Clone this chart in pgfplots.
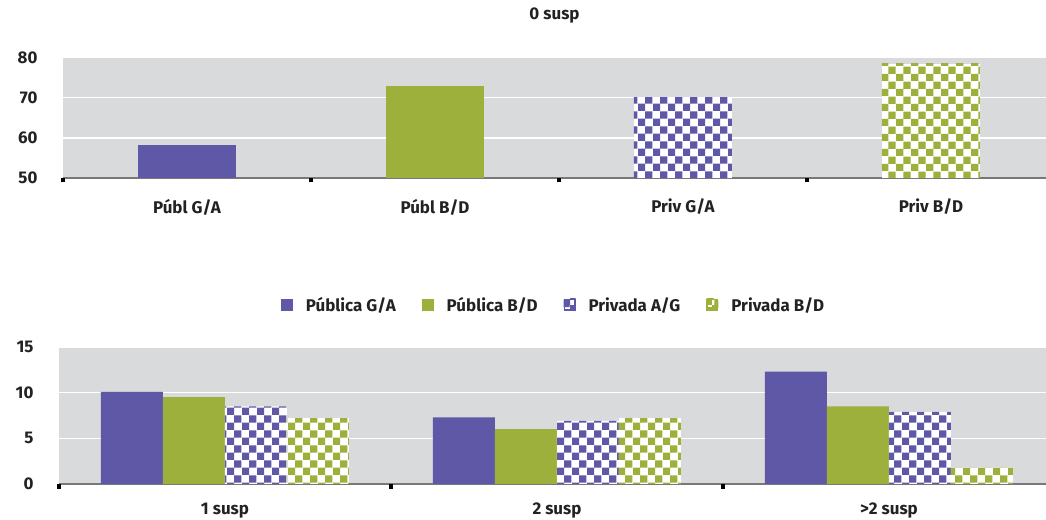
\documentclass[border=0pt]{standalone}
\usepackage{pgfplots}
\pgfplotsset{compat=1.18}
\usepackage{fontspec}
\setmainfont{Fira Sans}
\usetikzlibrary{patterns}
\definecolor{purp}{RGB}{95,88,166}
\definecolor{grn}{RGB}{157,176,59}
\definecolor{bgc}{RGB}{217,218,220}
\definecolor{axc}{RGB}{120,120,120}
\definecolor{txt}{RGB}{34,34,34}
\pgfdeclarepatternformonly{checker}{\pgfpointorigin}{\pgfqpoint{15.2bp}{15.2bp}}{\pgfqpoint{15.2bp}{15.2bp}}{%
  \pgfpathrectangle{\pgfpointorigin}{\pgfqpoint{7.6bp}{7.6bp}}%
  \pgfpathrectangle{\pgfqpoint{7.6bp}{7.6bp}}{\pgfqpoint{7.6bp}{7.6bp}}%
  \pgfusepath{fill}}
\newcommand{\lfont}{\fontsize{17}{19}\selectfont\bfseries\color{txt}}
\pgfplotsset{
  common/.style={
    scale only axis,
    axis background/.style={fill=bgc},
    axis x line*=bottom,
    axis y line*=left,
    y axis line style={draw=none},
    x axis line style={draw=axc, line width=1.5bp},
    ymajorgrids,
    grid style={white, line width=1.5bp},
    ytick style={draw=none},
    xtick style={draw=black, line width=4bp},
    major tick length=0pt,
    tick align=outside,
    tick label style={font=\lfont},
    /pgf/number format/assume math mode=true,
    yticklabel style={anchor=east, xshift=-22bp},
    xticklabel style={anchor=center},
    extra x tick style={major tick length=4.5bp},
    extra x tick labels={},
    clip=true,
  },
  solidp/.style={draw=none, fill=purp},
  solidg/.style={draw=none, fill=grn},
  checkp/.style={draw=none, fill=white, postaction={pattern=checker, pattern color=purp}},
  checkg/.style={draw=none, fill=white, postaction={pattern=checker, pattern color=grn}},
}
\begin{document}
\begin{tikzpicture}
\path[use as bounding box] (0,0) rectangle (1046bp,520bp);
% ---------- top chart ----------
\begin{axis}[common,
  at={(63bp,342bp)}, anchor=south west,
  width=983bp, height=120.5bp,
  xmin=-0.5, xmax=3.464,
  ymin=50, ymax=80,
  ytick={50,60,70,80},
  xtick={0,1,2,3},
  xticklabels={Públ G/A, Públ B/D, Priv G/A, Priv B/D},
  xticklabel style={yshift=-29bp},
  extra x ticks={-0.5,0.5,1.5,2.5},
  ybar, bar width=98bp,
  title={0 susp},
  title style={font=\lfont, at={(0.5,1)}, anchor=center, yshift=35.5bp},
]
\addplot[solidp, bar shift=0pt] coordinates {(0,58.2)};
\addplot[solidg, bar shift=0pt] coordinates {(1,72.9)};
\addplot[checkp, bar shift=0pt] coordinates {(2,70.1)};
\addplot[checkg, bar shift=0pt] coordinates {(3,78.4)};
\end{axis}
% ---------- bottom chart ----------
\begin{axis}[common,
  at={(59bp,36bp)}, anchor=south west,
  width=987bp, height=137bp,
  xmin=-0.5, xmax=2.473,
  ymin=0, ymax=15,
  ytick={0,5,10,15},
  xtick={0,1,2},
  xticklabels={1 susp, 2 susp, >2 susp},
  xticklabel style={yshift=-27bp},
  extra x ticks={-0.5,0.5,1.5},
  ybar=0pt, bar width=62bp,
  legend columns=4,
  legend style={draw=none, fill=none, at={(0.501,1.307)}, anchor=center,
    font=\lfont,
    /tikz/every odd column/.style={column sep=11bp},
    /tikz/every even column/.style={column sep=24bp},
    legend cell align=left},
]
\addplot[solidp, legend image code/.code={\fill[purp] (0bp,-6bp) rectangle (12bp,6bp);}]
  coordinates {(0,10.1) (1,7.3) (2,12.3)};
\addlegendentry{Pública G/A}
\addplot[solidg, legend image code/.code={\fill[grn] (0bp,-6bp) rectangle (12bp,6bp);}]
  coordinates {(0,9.5) (1,6.0) (2,8.5)};
\addlegendentry{Pública B/D}
\addplot[checkp, legend image code/.code={\fill[purp] (0bp,-6bp) rectangle (12bp,6bp);
    \fill[white] (6bp,0bp) rectangle (10.5bp,4.5bp); \fill[white] (1.5bp,-4.5bp) rectangle (6bp,0bp);}]
  coordinates {(0,8.5) (1,6.9) (2,7.9)};
\addlegendentry{Privada A/G}
\addplot[checkg, legend image code/.code={\fill[grn] (0bp,-6bp) rectangle (12bp,6bp);
    \fill[white] (6bp,0bp) rectangle (10.5bp,4.5bp); \fill[white] (1.5bp,-4.5bp) rectangle (6bp,0bp);}]
  coordinates {(0,7.2) (1,7.2) (2,1.8)};
\addlegendentry{Privada B/D}
\end{axis}
\end{tikzpicture}
\end{document}
